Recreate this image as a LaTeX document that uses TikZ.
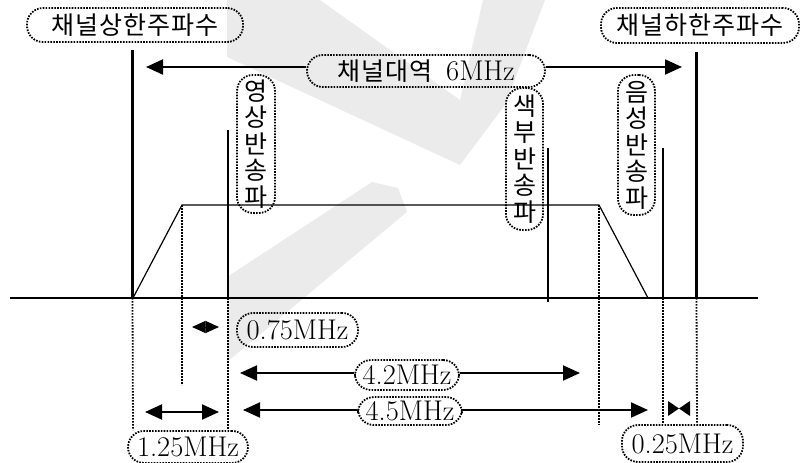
\documentclass[tikz,border=0pt]{standalone}
\usepackage{fontspec}
\setmainfont{Latin Modern Roman}
\newfontfamily\krfont[LetterSpace=4]{Noto Sans CJK KR}
\newfontfamily\krvfont{Noto Sans CJK KR}
\usetikzlibrary{arrows.meta}
\tikzset{
  wm/.style={fill=black!8, draw=none},
  lbl/.style={draw, line width=1.8pt, dash pattern=on 1.6pt off 1.3pt,
    rounded corners=16pt, inner sep=0pt, anchor=center},
  hkr/.style={lbl, font=\krfont\fontsize{25}{25}\selectfont},
  vkr/.style={lbl, align=center, font=\krvfont\fontsize{25}{26.5}\selectfont},
  num/.style={lbl, font=\fontsize{28.5}{28.5}\selectfont},
  thickline/.style={line width=3pt},
  thinline/.style={line width=1.2pt},
  dotline/.style={line width=1.8pt, dash pattern=on 1.6pt off 1.4pt},
  arr/.style={line width=2pt, -{Triangle[length=17pt,width=15pt]}},
  dbl/.style={line width=2pt, {Triangle[length=17pt,width=15pt]}-{Triangle[length=17pt,width=15pt]}},
  tiny/.style={line width=1pt, {Triangle[length=13.5pt,width=12pt]}-{Triangle[length=13.5pt,width=12pt]}}
}
\begin{document}
\begin{tikzpicture}[x=1pt,y=-1pt]
\useasboundingbox (0,0) rectangle (801,463);
% watermark
\fill[wm] (227,0) -- (320,0) -- (460,100) -- (483,0) -- (545,0) -- (505,105) -- (460,165) -- (227,57) -- cycle;
\fill[wm] (227,277) -- (372,182) -- (398,188) -- (407,212) -- (227,362) -- cycle;

% coordinates
\coordinate (base0) at (10,298);
\coordinate (base1) at (758,298);
\coordinate (upT) at (132.5,50);
\coordinate (upB) at (132.5,298);
\coordinate (dnT) at (696.5,52);
\coordinate (dnB) at (696.5,298);
\coordinate (imgT) at (228,130);
\coordinate (imgB) at (228,298);
\coordinate (colT) at (548,148);
\coordinate (colB) at (548,302);
\coordinate (sndT) at (663,148);
\coordinate (sndB) at (663,298);
\coordinate (tz1) at (133,298);
\coordinate (tz2) at (182,205);
\coordinate (tz3) at (599,205);
\coordinate (tz4) at (648,298);

% baseline and spectrum
\draw[line width=1.3pt] (base0) -- (base1);
\draw[thinline] (tz1) -- (tz2) -- (tz3) -- (tz4);
\draw[thickline] (upT) -- (upB);
\draw[thickline] (dnT) -- (dnB);
\draw[line width=2pt] (imgT) -- (imgB);
\draw[thinline] (colT) -- (colB);
\draw[thinline] (sndT) -- (sndB);

% dotted drop lines
\draw[dotline] (upB) -- (133,430);
\draw[dotline] (tz2) -- (182,385);
\draw[dotline] (imgB) -- (228,430);
\draw[dotline] (tz3) -- (599,425);
\draw[dotline] (sndB) -- (663,424);
\draw[dotline] (dnB) -- (697,424);

% top labels
\node[hkr, minimum width=216pt, minimum height=34pt] (up) at (135,25) {채널상한주파수};
\node[hkr, minimum width=198pt, minimum height=35pt] (dn) at (700,25.5) {채널하한주파수};
\node[hkr, minimum width=238pt, minimum height=32pt] (band) at (426,71) {채널대역\hspace{14pt}{\rmfamily\fontsize{28.5}{28.5}\selectfont 6MHz}};
\coordinate (bandL) at (146,67);
\coordinate (bandR) at (682,67);
\draw[arr] (band.west |- bandL) -- (bandL);
\draw[arr] (band.east |- bandR) -- (bandR);

% vertical labels
\node[vkr, minimum width=38pt, minimum height=138pt] (img) at (256,144) {영\\상\\반\\송\\파};
\node[vkr, minimum width=37pt, minimum height=142pt] (col) at (524.5,159) {색\\부\\반\\송\\파};
\node[vkr, minimum width=37pt, minimum height=140pt] (snd) at (636.5,145) {음\\성\\반\\송\\파};

% bottom measures
\node[num, minimum width=121pt, minimum height=34pt] (f075) at (297.5,330) {0.75MHz};
\coordinate (d1) at (192,327);
\coordinate (d2) at (219,327);
\draw[tiny] (d1) -- (d2);

\node[num, minimum width=104pt, minimum height=30pt] (f42) at (407,375) {4.2MHz};
\coordinate (a42L) at (240,373);
\coordinate (a42R) at (580,373);
\draw[arr] (f42.west |- a42L) -- (a42L);
\draw[arr] (f42.east |- a42R) -- (a42R);

\node[num, minimum width=104pt, minimum height=28pt] (f45) at (410,411) {4.5MHz};
\coordinate (a45L) at (243,410);
\coordinate (a45R) at (648,410);
\draw[arr] (f45.west |- a45L) -- (a45L);
\draw[arr] (f45.east |- a45R) -- (a45R);

\node[num, minimum width=120pt, minimum height=32pt] (f125) at (188,447) {1.25MHz};
\coordinate (b1) at (145,412);
\coordinate (b2) at (219,412);
\draw[dbl] (b1) -- (b2);

\node[num, minimum width=121pt, minimum height=37pt] (f025) at (682.5,443.5) {0.25MHz};
\fill (668,401) -- (668,416) -- (679,408.5) -- cycle;
\fill (690,401) -- (690,416) -- (679,408.5) -- cycle;
\end{tikzpicture}
\end{document}
